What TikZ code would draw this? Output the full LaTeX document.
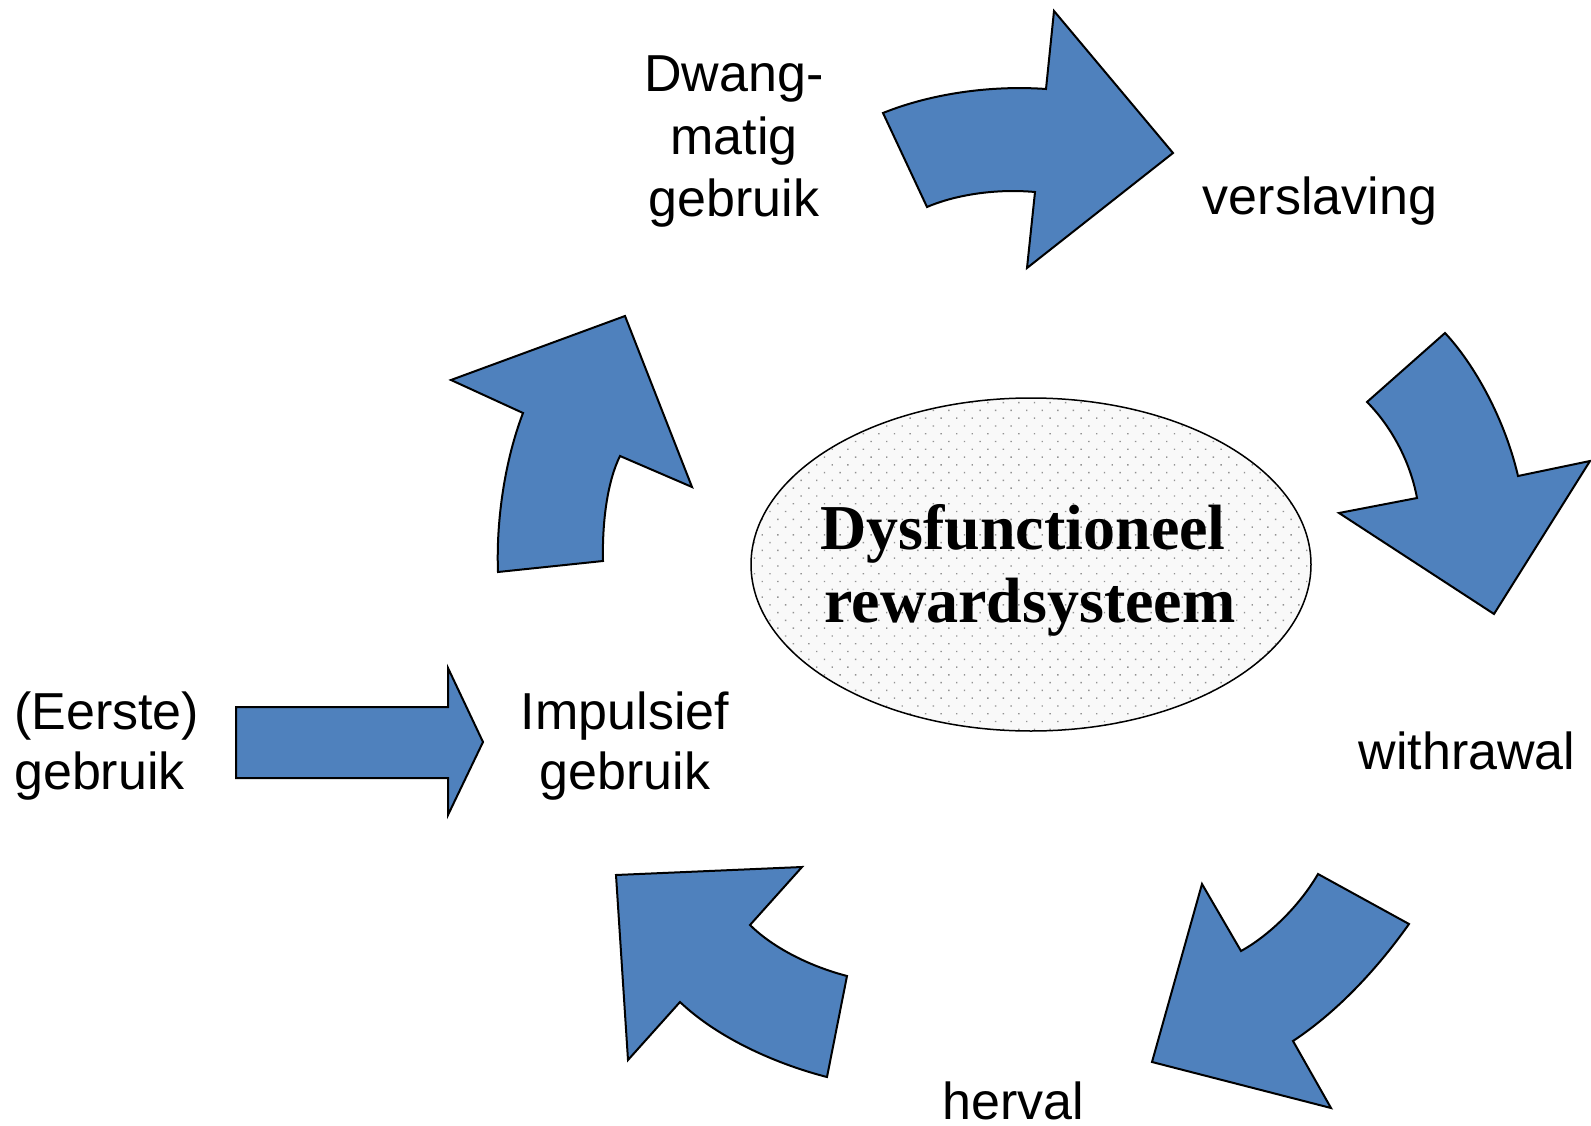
\documentclass[tikz,border=0pt]{standalone}
\usepackage{fontspec}
\setmainfont{Liberation Serif}
\newfontfamily\arialfont{Liberation Sans}
\usetikzlibrary{patterns.meta}
\definecolor{arrowblue}{HTML}{4F81BD}
\begin{document}
\begin{tikzpicture}[x=1pt,y=-1pt,
  blockarrow/.style={fill=arrowblue,draw=black,line width=2pt,line join=miter},
  lbl/.style={font=\arialfont\fontsize{52}{62}\selectfont,inner sep=0pt,anchor=base},
  core/.style={font=\bfseries\fontsize{64}{74}\selectfont,inner sep=0pt,anchor=base}]
\useasboundingbox (0,0) rectangle (1591,1126);

% central ellipse
\fill[gray!5] (1031,564.5) ellipse [x radius=280, y radius=166.5];
\path[pattern={Dots[distance=11pt,radius=1pt,angle=45]},pattern color=gray!85] (1031,564.5) ellipse [x radius=280, y radius=166.5];
\draw[line width=1.5pt] (1031,564.5) ellipse [x radius=280, y radius=166.5];
\node[core] (core1) at (1023,549) {Dysfunctioneel};
\node[core] (core2) at (1030,622) {rewardsysteem};

% straight arrow
\draw[blockarrow] (236,707) -- (448,707) -- (448,668) -- (483,742) -- (448,815) -- (448,778) -- (236,778) -- cycle;

% upper-left curved arrow
\draw[blockarrow] (451,380) -- (625,316) -- (692,487) -- (620,456)
  .. controls (608,480) and (602,520) .. (603,561) -- (498,572)
  .. controls (496,520) and (505,460) .. (523,413) -- cycle;

% top curved arrow
\draw[blockarrow] (883,113) .. controls (930,94) and (990,85) .. (1046,89)
  -- (1054,11) -- (1173,153) -- (1027,268) -- (1035,192)
  .. controls (990,188) and (950,197) .. (927,207) -- cycle;

% right curved arrow
\draw[blockarrow] (1445,333) .. controls (1475,365) and (1505,420) .. (1518,476)
  -- (1590,461) -- (1494,614) -- (1339,513) -- (1417,498)
  .. controls (1410,460) and (1390,425) .. (1367,402) -- cycle;

% bottom-right curved arrow
\draw[blockarrow] (1318,874) -- (1409,924)
  .. controls (1380,965) and (1340,1010) .. (1293,1041)
  -- (1331,1108) -- (1152,1062) -- (1202,884) -- (1241,951)
  .. controls (1270,935) and (1300,905) .. (1318,874) -- cycle;

% bottom-left curved arrow
\draw[blockarrow] (616,875) -- (802,867) -- (750,925)
  .. controls (770,945) and (805,965) .. (847,976)
  -- (827,1077)
  .. controls (780,1065) and (720,1040) .. (680,1002)
  -- (628,1060) -- cycle;

% labels
\node[lbl] (dwA) at (734,92) {Dwang-};
\node[lbl] (dwB) at (734,155) {matig};
\node[lbl] (dwC) at (734,217) {gebruik};
\node[lbl] (versl) at (1320,215) {verslaving};
\node[lbl] (withr) at (1467,769) {withrawal};
\node[lbl] (herv) at (1013,1119) {herval};
\node[lbl,anchor=base west] (eerA) at (14,729) {(Eerste)};
\node[lbl,anchor=base west] (eerB) at (14,789) {gebruik};
\node[lbl] (impA) at (625,729) {Impulsief};
\node[lbl] (impB) at (625,789) {gebruik};
\end{tikzpicture}
\end{document}
